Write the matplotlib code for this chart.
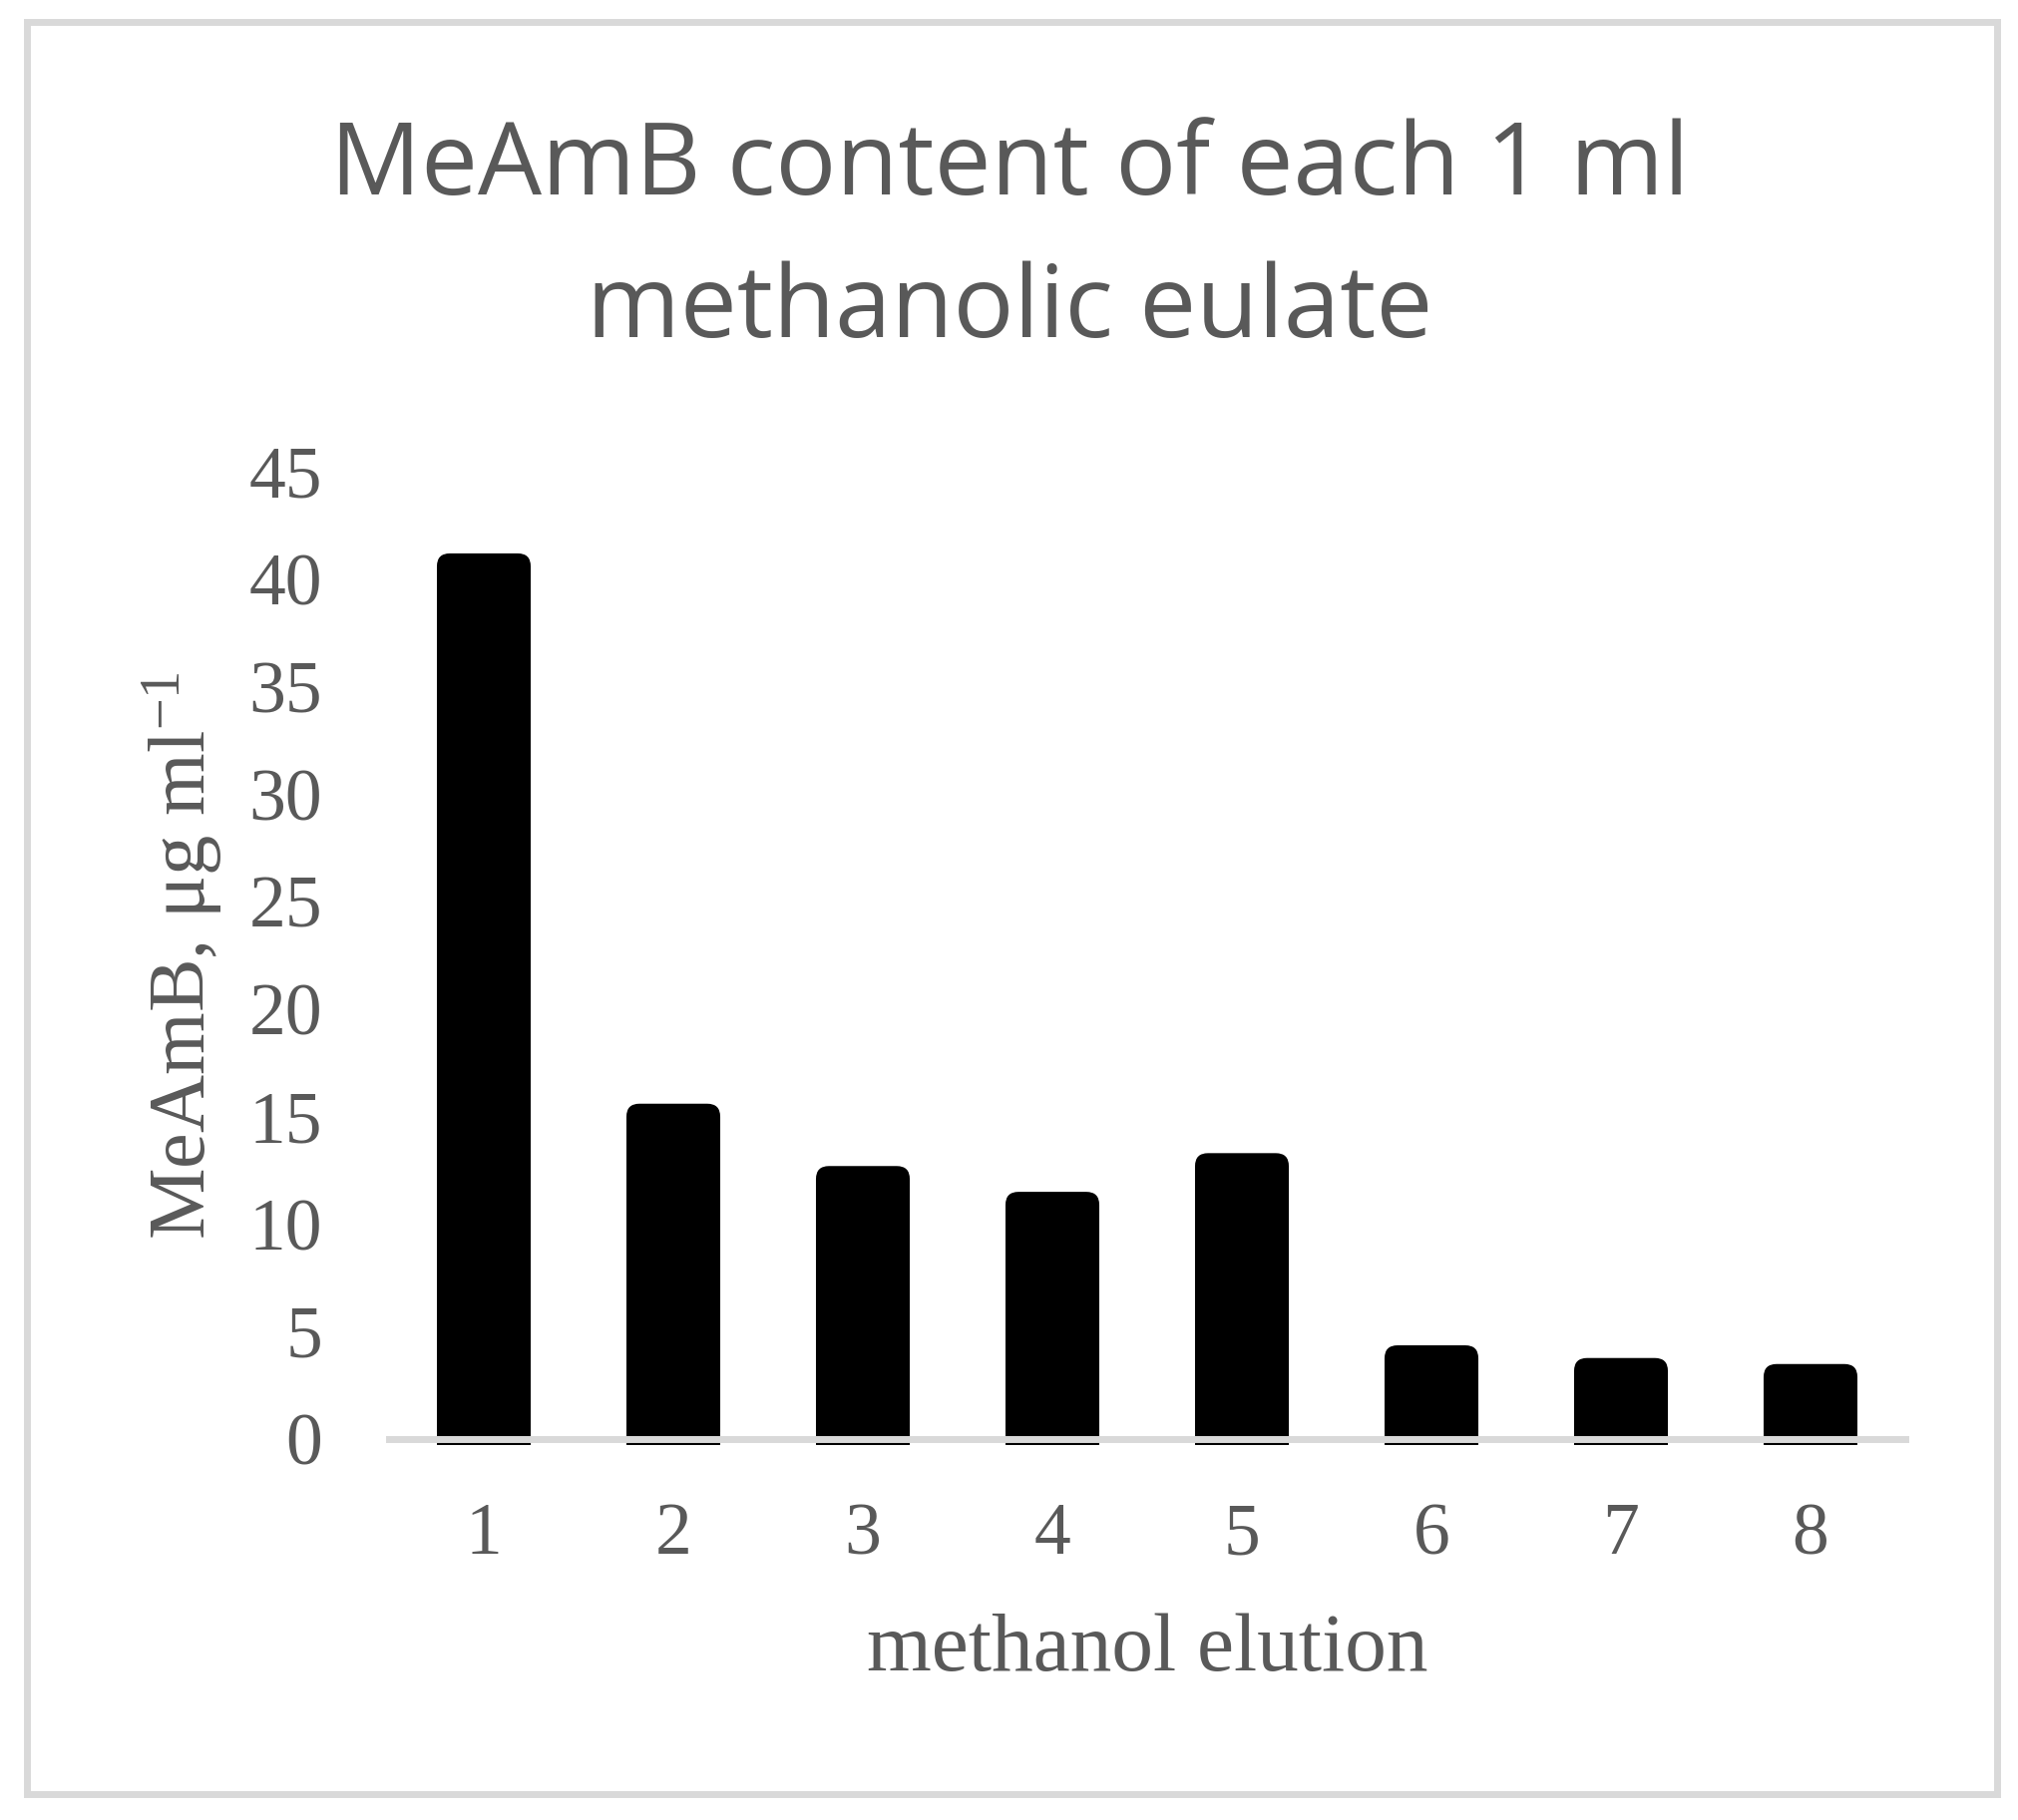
import numpy as np
import matplotlib
matplotlib.use("Agg")
import matplotlib.pyplot as plt
from matplotlib.patches import FancyBboxPatch, Rectangle

# data
elutions = [1, 2, 3, 4, 5, 6, 7, 8]
meamb = [41.2, 15.6, 12.7, 11.5, 13.3, 4.36, 3.77, 3.49]
yticks = [0, 5, 10, 15, 20, 25, 30, 35, 40, 45]

title_lines = ["MeAmB content of each 1 ml", "methanolic eulate"]
xlabel = "methanol elution"
ylabel = r"MeAmB, μg ml$^{\mathrm{-1}}$"

text_grey = "#595959"
line_grey = "#D9D9D9"

plt.rcParams["font.family"] = ["Liberation Serif", "DejaVu Serif"]
plt.rcParams["mathtext.fontset"] = "custom"
plt.rcParams["mathtext.rm"] = "Liberation Serif"
plt.rcParams["mathtext.it"] = "Liberation Serif:italic"

W, H = 2024, 1825
fig = plt.figure(figsize=(W / 100, H / 100), dpi=100)

# axes box in pixels: x 390..1910, y(0)=1443, y(45)=473
ax = fig.add_axes([390 / W, 1 - 1443 / H, 1520 / W, (1443 - 473) / H])
ax.set_xlim(0.5, 8.5)
ax.set_ylim(0, 45)

bar_w = 0.495
px_x = 1520 / 8.0        # pixels per x unit
px_y = (1443 - 473) / 45.0  # pixels per y unit
r_px = 13
rx = r_px / px_x
ry = r_px / px_y
base = -6.0 / px_y

x = np.asarray(elutions, dtype=float)
vals = np.asarray(meamb)

# square lower part of each bar
ax.bar(x, vals / 2 - base, bottom=base, width=bar_w, color="black",
       linewidth=0, zorder=2, clip_on=False)
# rounded top part
for xi, v in zip(x, vals):
    p = FancyBboxPatch((xi - bar_w / 2 + rx, base + ry), bar_w - 2 * rx, v - base - 2 * ry,
                       boxstyle=f"round,pad={rx},rounding_size={rx}",
                       mutation_aspect=ry / rx, facecolor="black",
                       edgecolor="none", zorder=2, clip_on=False)
    ax.add_patch(p)

ax.axhline(0, color=line_grey, linewidth=5, zorder=3, clip_on=False)

for s in ax.spines.values():
    s.set_visible(False)

ax.set_xticks(elutions)
ax.set_xticklabels([str(e) for e in elutions])
ax.set_yticks(yticks)
ax.tick_params(axis="both", length=0, labelsize=53, labelcolor=text_grey)
ax.tick_params(axis="y", pad=48)
ax.tick_params(axis="x", pad=46)

ax.set_xlabel(xlabel, fontsize=60, color=text_grey, labelpad=31)
ax.set_ylabel(ylabel, fontsize=58, color=text_grey, labelpad=17)

# title, two centred lines
fig.text(0.5, 1 - 195 / H, title_lines[0], ha="center", va="baseline",
         fontsize=73, color=text_grey, family="Open Sans")
fig.text(0.5, 1 - 338 / H, title_lines[1], ha="center", va="baseline",
         fontsize=73, color=text_grey, family="Open Sans")

# outer chart frame
frame = Rectangle((26.5 / W, 1 - 1799 / H), (2002 - 26.5) / W, (1799 - 22) / H,
                  transform=fig.transFigure, fill=False, edgecolor=line_grey,
                  linewidth=5)
fig.patches.append(frame)

plt.savefig("out.png", dpi=100)
